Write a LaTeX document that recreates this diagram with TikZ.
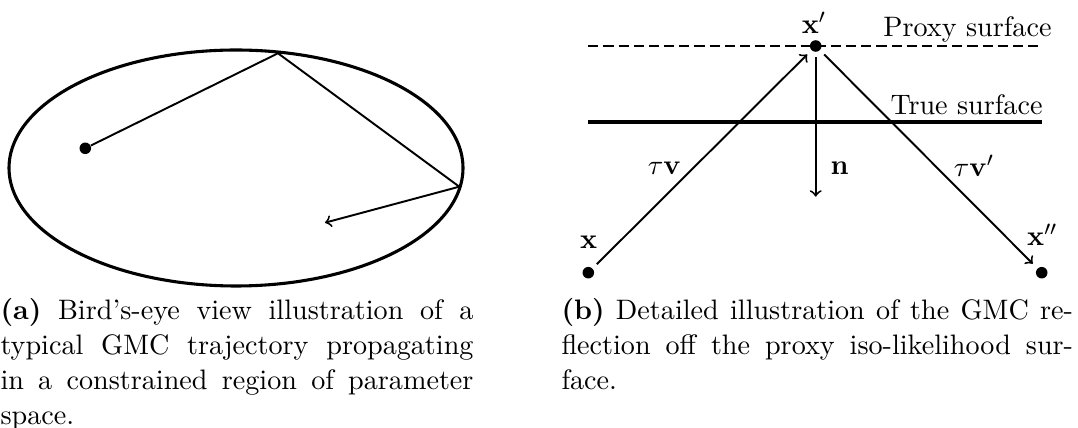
\documentclass[tikz,border=0pt]{standalone}
\usepackage{amsmath}
\begin{document}
\begin{tikzpicture}[x=0.389pt,y=-0.389pt,
  dot/.style={circle,fill=black,inner sep=0pt,minimum size=4.5pt},
  traj/.style={line width=0.75pt},
  surf/.style={line width=1.2pt},
  lbl/.style={inner sep=0pt,font=\fontsize{10.95}{13.6}\selectfont},
  captext/.style={inner sep=0pt,anchor=north west,align=justify,font=\fontsize{10.95}{13.6}\selectfont}]
\useasboundingbox (0,0) rectangle (1078,428);
% ---- (a) ----
\draw[surf] (236,168) ellipse [x radius=88.3pt, y radius=45.9pt];
\node[dot] (s) at (85.3,148.3) {};
\coordinate (b1) at (278,53.3);
\coordinate (b2) at (459.3,186.7);
\coordinate (e) at (325,222.7);
\draw[traj,->] (s) -- (b1) -- (b2) -- (e);
\node[captext,text width=184pt] (capa) at (0,297.5) {\textbf{(a)} Bird's-eye view illustration of a\linebreak typical GMC trajectory propagating\linebreak in a constrained region of parameter\linebreak space.};
% ---- (b) ----
\coordinate (pl) at (588.3,46);
\coordinate (pr) at (1043,46);
\coordinate (tl) at (588.3,122);
\coordinate (tr) at (1042,122);
\draw[traj,dash pattern=on 3.9pt off 2pt] (pl) -- (pr);
\draw[surf] (tl) -- (tr);
\node[dot] (xp) at (815.7,46) {};
\node[dot] (x) at (588.3,272.7) {};
\node[dot] (xpp) at (1041.7,272.7) {};
\coordinate (nend) at (815.7,196.7);
\draw[traj,->,shorten <=2.2pt,shorten >=2.2pt] (x) -- (xp);
\draw[traj,->,shorten <=2.2pt,shorten >=2.5pt] (xp) -- (xpp);
\draw[traj,->,shorten <=2pt] (xp) -- (nend);
\node[lbl,anchor=base] (lxp) at (814,34) {$\mathbf{x}'$};
\node[lbl,anchor=base] (lx) at (588.7,248.3) {$\mathbf{x}$};
\node[lbl,anchor=base west] (lxpp) at (1026.7,246) {$\mathbf{x}''$};
\node[lbl,anchor=base west] (ltv) at (647.3,174.3) {$\tau\mathbf{v}$};
\node[lbl,anchor=base west] (ln) at (830,174.3) {$\mathbf{n}$};
\node[lbl,anchor=base west] (ltvp) at (953.3,176.7) {$\tau\mathbf{v}'$};
\node[lbl,anchor=base east] (proxy) at (1052,36.7) {Proxy surface};
\node[lbl,anchor=base east] (true) at (1043,115) {True surface};
\node[captext,text width=199pt] (capb) at (561,297.5) {\textbf{(b)} Detailed illustration of the GMC re-\linebreak flection off the proxy iso-likelihood sur-\linebreak face.};
\end{tikzpicture}
\end{document}
